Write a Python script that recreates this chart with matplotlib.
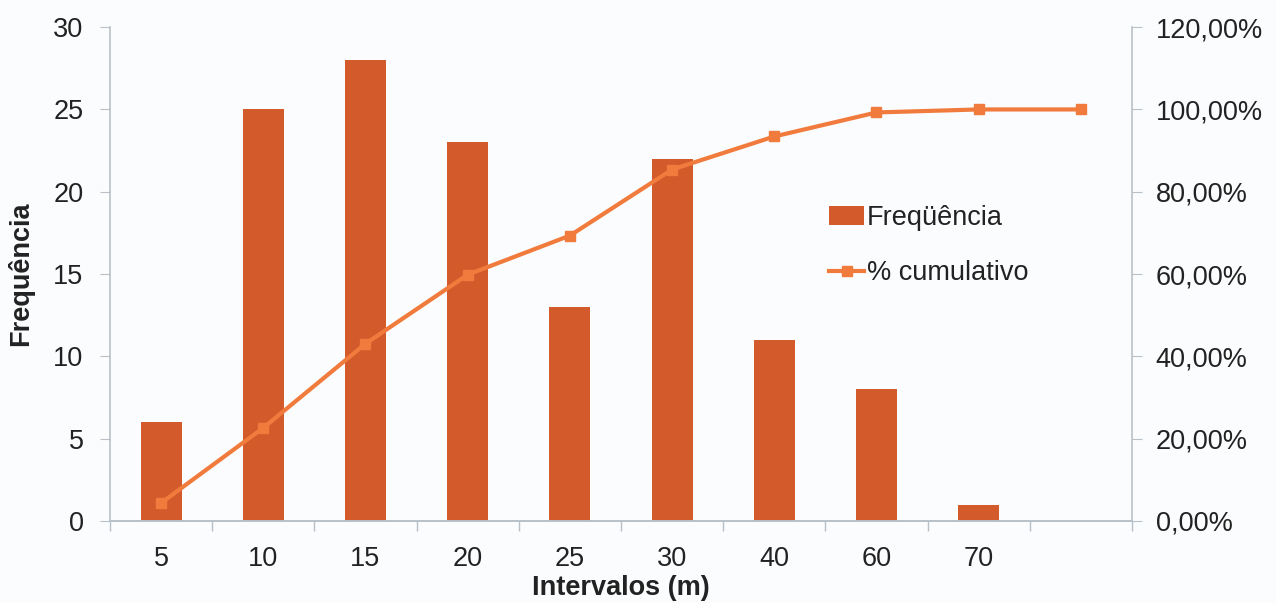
import numpy as np
import matplotlib.pyplot as plt
from matplotlib.ticker import FuncFormatter

plt.rcParams['font.family'] = ['Liberation Sans', 'DejaVu Sans']

# frequency table of interval classes
intervalos = ['5', '10', '15', '20', '25', '30', '40', '60', '70', '']
frequencia = [6, 25, 28, 23, 13, 22, 11, 8, 1, 0]
cumulativo = [4.38, 22.63, 43.07, 59.85, 69.34, 85.40, 93.43, 99.27, 100.0, 100.0]

bar_color = '#d35a2b'
line_color = '#f07b3c'
axis_color = '#b8c0c8'
text_color = '#222222'
fs = 19.5

fig = plt.figure(figsize=(12.76, 6.03), dpi=100, facecolor='#fbfcfd')
ax = fig.add_axes([0.0862, 0.136, 0.8009, 0.819])
ax.set_facecolor('#fbfcfd')
ax2 = ax.twinx()

x = np.arange(len(intervalos))
ax.bar(x, frequencia, width=0.4, color=bar_color, label='Freqüência', zorder=2)
ax2.plot(x, cumulativo, color=line_color, lw=3, marker='s', markersize=7.5,
         label='% cumulativo', zorder=3)

ax.set_xlim(-0.5, len(intervalos) - 0.5)
ax.set_ylim(0, 30)
ax.set_yticks(range(0, 31, 5))
ax2.set_ylim(0, 120)
ax2.set_yticks(range(0, 121, 20))
ax2.yaxis.set_major_formatter(FuncFormatter(lambda v, p: f'{v:.2f}%'.replace('.', ',')))

# category labels centred, ticks on the boundaries
ax.set_xticks(x)
ax.set_xticklabels(intervalos)
ax.set_xticks(np.arange(-0.5, len(intervalos)), minor=True)
ax.tick_params(axis='x', which='major', length=0, pad=18, labelsize=fs, labelcolor=text_color)
ax.tick_params(axis='x', which='minor', length=7, color=axis_color, width=1)
ax.tick_params(axis='y', length=7, color=axis_color, labelsize=fs, labelcolor=text_color, pad=12)
ax2.tick_params(axis='y', length=7, color=axis_color, labelsize=fs, labelcolor=text_color, pad=10)

for a in (ax, ax2):
    a.spines['top'].set_visible(False)
    for s in ('left', 'right', 'bottom'):
        a.spines[s].set_color(axis_color)
        a.spines[s].set_linewidth(1.2)
ax.spines['right'].set_visible(False)
ax2.spines['left'].set_visible(False)

ax.set_xlabel('Intervalos (m)', fontsize=fs, fontweight='bold', color=text_color, labelpad=2)
ax.set_ylabel('Frequência', fontsize=fs, fontweight='bold', color=text_color, labelpad=14)

h1, l1 = ax.get_legend_handles_labels()
h2, l2 = ax2.get_legend_handles_labels()
ax2.legend(h1 + h2, l1 + l2, loc='upper left', bbox_to_anchor=(0.68, 0.69),
           frameon=False, fontsize=fs, handlelength=1.3, handletextpad=0.1,
           labelspacing=1.1, labelcolor=text_color)

fig.savefig('out.png', dpi=100, facecolor=fig.get_facecolor())
